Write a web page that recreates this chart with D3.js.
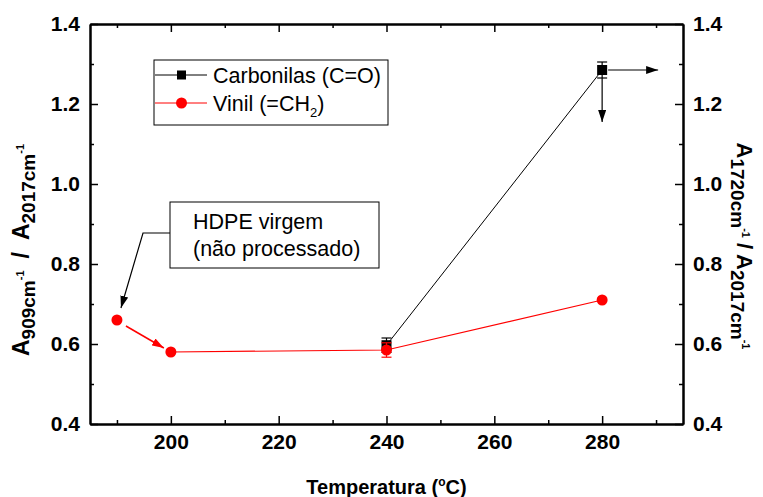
<!DOCTYPE html>
<html>
  <head>
    <script src="https://d3js.org/d3.v7.min.js"></script>
    <style>
      body { margin: 0; background: white; }
      text { font-family: "Liberation Sans", Arial, sans-serif; }
      .axis text { font-size: 21px; font-weight: bold; fill: black; }
      .axis path, .axis line { stroke: black; }
    </style>
  </head>
  <body>
    <script>
      // data
      const temps = [190, 200, 240, 280];
      const vinil = [0.66, 0.58, 0.585, 0.71];
      const vinilErr = [0, 0, 0.018, 0];
      const carbTemps = [240, 280];
      const carbonilas = [0.597, 1.285];
      const carbErr = [0.018, 0.02];
      const xMajor = [200, 220, 240, 260, 280];
      const xMinor = [190, 210, 230, 250, 270, 290];
      const yMajor = [0.4, 0.6, 0.8, 1.0, 1.2, 1.4];
      const yMinor = [0.5, 0.7, 0.9, 1.1, 1.3];

      const w = 763, h = 497;
      const pLeft = 90, pRight = 683, pTop = 24, pBottom = 424;

      const svg = d3.select('body').append('svg')
        .attr('width', w).attr('height', h);

      const x = d3.scaleLinear().domain([185, 295]).range([pLeft, pRight]);
      const y = d3.scaleLinear().domain([0.4, 1.4]).range([pBottom, pTop]);

      const defs = svg.append('defs');
      function marker(id, color) {
        defs.append('marker')
          .attr('id', id)
          .attr('viewBox', '0 0 12 8')
          .attr('refX', 12).attr('refY', 4)
          .attr('markerWidth', 12).attr('markerHeight', 8)
          .attr('markerUnits', 'userSpaceOnUse')
          .attr('orient', 'auto')
          .append('path')
          .attr('d', 'M0,0 L12,4 L0,8 Z')
          .attr('fill', color);
      }
      marker('arrBlack', 'black');
      marker('arrRed', 'red');

      // axes: major + minor ticks, pointing inward
      function addAxis(axisFn, scale, transform, ticks, size, labels) {
        const a = axisFn(scale).tickValues(ticks).tickSizeInner(-size).tickSizeOuter(0)
          .tickPadding(10);
        if (labels) a.tickFormat(d3.format('.1f'));
        else a.tickFormat('');
        const g = svg.append('g').attr('class', 'axis').attr('transform', transform).call(a);
        g.selectAll('line').attr('stroke-width', 1.5);
        g.select('.domain').attr('stroke-width', 2);
        return g;
      }
      const bx = addAxis(d3.axisBottom, x, `translate(0,${pBottom})`, xMajor, 8, true);
      bx.selectAll('text').text(d => d);
      addAxis(d3.axisBottom, x, `translate(0,${pBottom})`, xMinor, 4, false);
      addAxis(d3.axisTop, x, `translate(0,${pTop})`, xMajor, 8, false);
      addAxis(d3.axisTop, x, `translate(0,${pTop})`, xMinor, 4, false);
      addAxis(d3.axisLeft, y, `translate(${pLeft},0)`, yMajor, 8, true);
      addAxis(d3.axisLeft, y, `translate(${pLeft},0)`, yMinor, 4, false);
      addAxis(d3.axisRight, y, `translate(${pRight},0)`, yMajor, 8, true);
      addAxis(d3.axisRight, y, `translate(${pRight},0)`, yMinor, 4, false);

      // axis titles
      svg.append('text')
        .attr('x', (pLeft + pRight) / 2).attr('y', 494)
        .attr('text-anchor', 'middle')
        .style('font-size', '20px').style('font-weight', 'bold')
        .call(t => {
          t.append('tspan').text('Temperatura (');
          t.append('tspan').attr('dy', -8).style('font-size', '12px').text('o');
          t.append('tspan').attr('dy', 8).text('C)');
        });

      function absLabel(t, a, b, gap) {
        t.append('tspan').text('A');
        t.append('tspan').attr('dy', 6).style('font-size', '19px').text(a);
        t.append('tspan').attr('dy', -11).style('font-size', '11px').text('-1');
        t.append('tspan').attr('dy', 5).attr('dx', gap).text('/');
        t.append('tspan').attr('dx', gap).text('A');
        t.append('tspan').attr('dy', 6).style('font-size', '19px').text(b);
        t.append('tspan').attr('dy', -11).style('font-size', '11px').text('-1');
      }
      svg.append('text')
        .attr('transform', 'translate(29,250) rotate(-90)')
        .attr('text-anchor', 'middle')
        .style('font-size', '23px').style('font-weight', 'bold')
        .call(t => absLabel(t, '909cm', '2017cm', 12));
      svg.append('text')
        .attr('transform', 'translate(737,246) rotate(90)')
        .attr('text-anchor', 'middle')
        .style('font-size', '22px').style('font-weight', 'bold')
        .call(t => absLabel(t, '1720cm', '2017cm', 5));

      // Vinil series: line from 200 on, arrow from the virgin sample
      const line = d3.line().x(d => x(d[0])).y(d => y(d[1]));
      const vin = temps.map((t, i) => [t, vinil[i], vinilErr[i]]);
      svg.append('path')
        .datum(vin.slice(1))
        .attr('d', line)
        .attr('fill', 'none').attr('stroke', 'red').attr('stroke-width', 1.2);
      const p0 = [x(vin[0][0]), y(vin[0][1])], p1 = [x(vin[1][0]), y(vin[1][1])];
      svg.append('line')
        .attr('x1', p0[0] + 9).attr('y1', p0[1] + 6)
        .attr('x2', p1[0] - 7).attr('y2', p1[1] - 4)
        .attr('stroke', 'red').attr('stroke-width', 1.5)
        .attr('marker-end', 'url(#arrRed)');

      // Carbonilas series
      const carb = carbTemps.map((t, i) => [t, carbonilas[i], carbErr[i]]);
      svg.append('path')
        .datum(carb)
        .attr('d', line)
        .attr('fill', 'none').attr('stroke', 'black').attr('stroke-width', 1);

      function errBars(data, color) {
        const g = svg.append('g').attr('stroke', color).attr('stroke-width', 1.2);
        data.filter(d => d[2] > 0).forEach(d => {
          const cx = x(d[0]);
          g.append('line').attr('x1', cx).attr('x2', cx)
            .attr('y1', y(d[1] - d[2])).attr('y2', y(d[1] + d[2]));
          [d[1] - d[2], d[1] + d[2]].forEach(v => {
            g.append('line').attr('x1', cx - 5).attr('x2', cx + 5)
              .attr('y1', y(v)).attr('y2', y(v));
          });
        });
      }
      errBars(carb, 'black');
      svg.selectAll('.sq').data(carb).enter().append('rect')
        .attr('x', d => x(d[0]) - 5).attr('y', d => y(d[1]) - 5)
        .attr('width', 10).attr('height', 10).attr('fill', 'black');
      errBars(vin, 'red');
      svg.selectAll('.dot').data(vin).enter().append('circle')
        .attr('cx', d => x(d[0])).attr('cy', d => y(d[1]))
        .attr('r', 5.5).attr('fill', 'red');

      // arrows showing the carbonyl series belongs to the right axis
      const cx = x(280), cy = y(1.285);
      svg.append('line')
        .attr('x1', cx + 6).attr('y1', cy).attr('x2', cx + 56).attr('y2', cy)
        .attr('stroke', 'black').attr('stroke-width', 1.2)
        .attr('marker-end', 'url(#arrBlack)');
      svg.append('line')
        .attr('x1', cx).attr('y1', cy + 8).attr('x2', cx).attr('y2', cy + 52)
        .attr('stroke', 'black').attr('stroke-width', 1.2)
        .attr('marker-end', 'url(#arrBlack)');

      // legend
      const lg = svg.append('g');
      lg.append('rect').attr('x', 154).attr('y', 60).attr('width', 234).attr('height', 65)
        .attr('fill', 'white').attr('stroke', 'black').attr('stroke-width', 1);
      [['Carbonilas (C=O)', 'black', 75], ['Vinil (=CH', 'red', 103]].forEach((r, i) => {
        lg.append('line').attr('x1', 155).attr('x2', 207).attr('y1', r[2]).attr('y2', r[2])
          .attr('stroke', r[1]).attr('stroke-width', 1);
        if (i === 0) {
          lg.append('rect').attr('x', 177).attr('y', r[2] - 4.5).attr('width', 9).attr('height', 9)
            .attr('fill', 'black');
        } else {
          lg.append('circle').attr('cx', 181.5).attr('cy', r[2]).attr('r', 5.5).attr('fill', 'red');
        }
        const t = lg.append('text').attr('x', 213).attr('y', r[2] + 8)
          .style('font-size', '21.5px');
        t.append('tspan').text(r[0]);
        if (i === 1) {
          t.append('tspan').attr('dy', 6).style('font-size', '13px').text('2');
          t.append('tspan').attr('dy', -6).text(')');
        }
      });

      // annotation
      svg.append('rect').attr('x', 170).attr('y', 202).attr('width', 209).attr('height', 66)
        .attr('fill', 'white').attr('stroke', 'black').attr('stroke-width', 1);
      svg.append('text').attr('x', 193).attr('y', 229).style('font-size', '21.5px')
        .text('HDPE virgem');
      svg.append('text').attr('x', 193).attr('y', 256).style('font-size', '21.5px')
        .text('(não processado)');
      svg.append('path')
        .attr('d', `M170,233 L143,233 L${x(190) + 4},${y(0.66) - 12}`)
        .attr('fill', 'none').attr('stroke', 'black').attr('stroke-width', 1.2)
        .attr('marker-end', 'url(#arrBlack)');
    </script>
  </body>
</html>
